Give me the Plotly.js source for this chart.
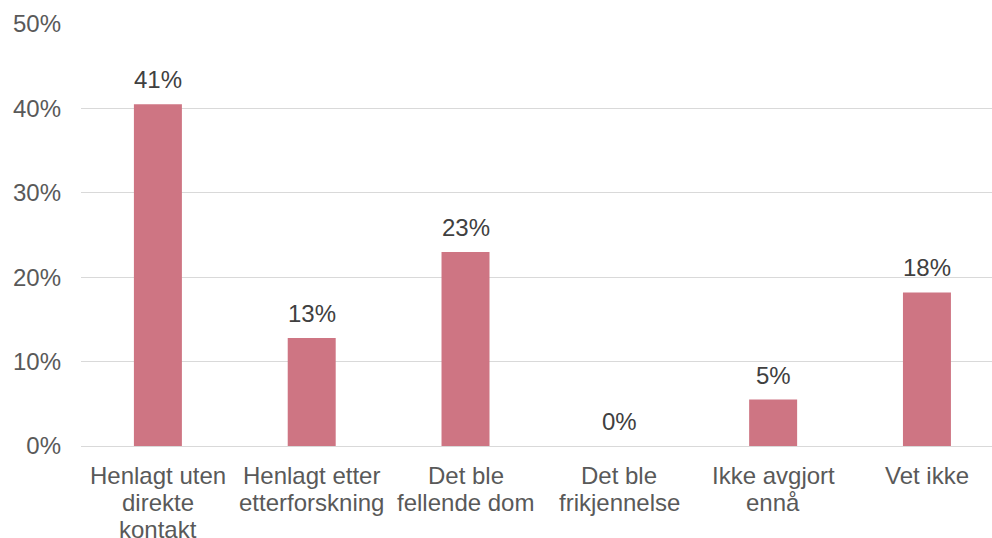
<!DOCTYPE html>
<html>
<head>
<meta charset="utf-8">
<script src="https://cdn.plot.ly/plotly-3.0.1.min.js"></script>
<style>html,body{margin:0;padding:0;background:#fff;}#chart{width:992px;height:538px;}</style>
</head>
<body>
<div id="chart"></div>
<script>
const categories = ["Henlagt uten<br>direkte<br>kontakt", "Henlagt etter<br>etterforskning", "Det ble<br>fellende dom", "Det ble<br>frikjennelse", "Ikke avgjort<br>ennå", "Vet ikke"];
const values = [40.5, 12.8, 23.0, 0, 5.5, 18.2];
const labels = ["41%", "13%", "23%", "0%", "5%", "18%"];
const yTicks = [0, 10, 20, 30, 40, 50];

const FONT = "Liberation Sans, Arial, sans-serif";
const FS = 24;

const trace = {
  type: "bar",
  x: categories,
  y: values,
  width: 0.312,
  marker: {color: "#CE7583"},
  hoverinfo: "none"
};

const annotations = categories.map((c, i) => ({
  x: c, y: values[i], xref: "x", yref: "y",
  text: labels[i], showarrow: false,
  yanchor: "bottom", yshift: 9,
  font: {family: FONT, size: FS, color: "#404040"}
}));

// category labels, one annotation per line for Excel-like line spacing
categories.forEach(c => {
  c.split("<br>").forEach((line, j) => {
    annotations.push({
      x: c, y: 0, xref: "x", yref: "y",
      text: line, showarrow: false, borderpad: 0,
      yanchor: "bottom", yshift: -44 - 26.8 * j,
      font: {family: FONT, size: FS, color: "#595959"}
    });
  });
});

const layout = {
  width: 992, height: 538,
  margin: {l: 81, r: 0, t: 24, b: 92, pad: 0},
  paper_bgcolor: "#fff", plot_bgcolor: "#fff",
  showlegend: false,
  font: {family: FONT, size: FS, color: "#595959"},
  xaxis: {
    type: "category",
    range: [-0.5, 5.423],
    showgrid: false, showline: false, zeroline: false,
    ticks: "", showticklabels: false, fixedrange: true
  },
  yaxis: {
    range: [0, 50],
    tickvals: yTicks,
    ticktext: yTicks.map(v => v + "%"),
    showgrid: true, gridcolor: "#D9D9D9", gridwidth: 1,
    zeroline: true, zerolinecolor: "#D9D9D9", zerolinewidth: 1,
    showline: false, ticks: "",
    ticklabelstandoff: 19,
    tickfont: {family: FONT, size: FS, color: "#595959"}
  },
  annotations: annotations
};

Plotly.newPlot("chart", [trace], layout, {displayModeBar: false, staticPlot: true});
</script>
</body>
</html>
